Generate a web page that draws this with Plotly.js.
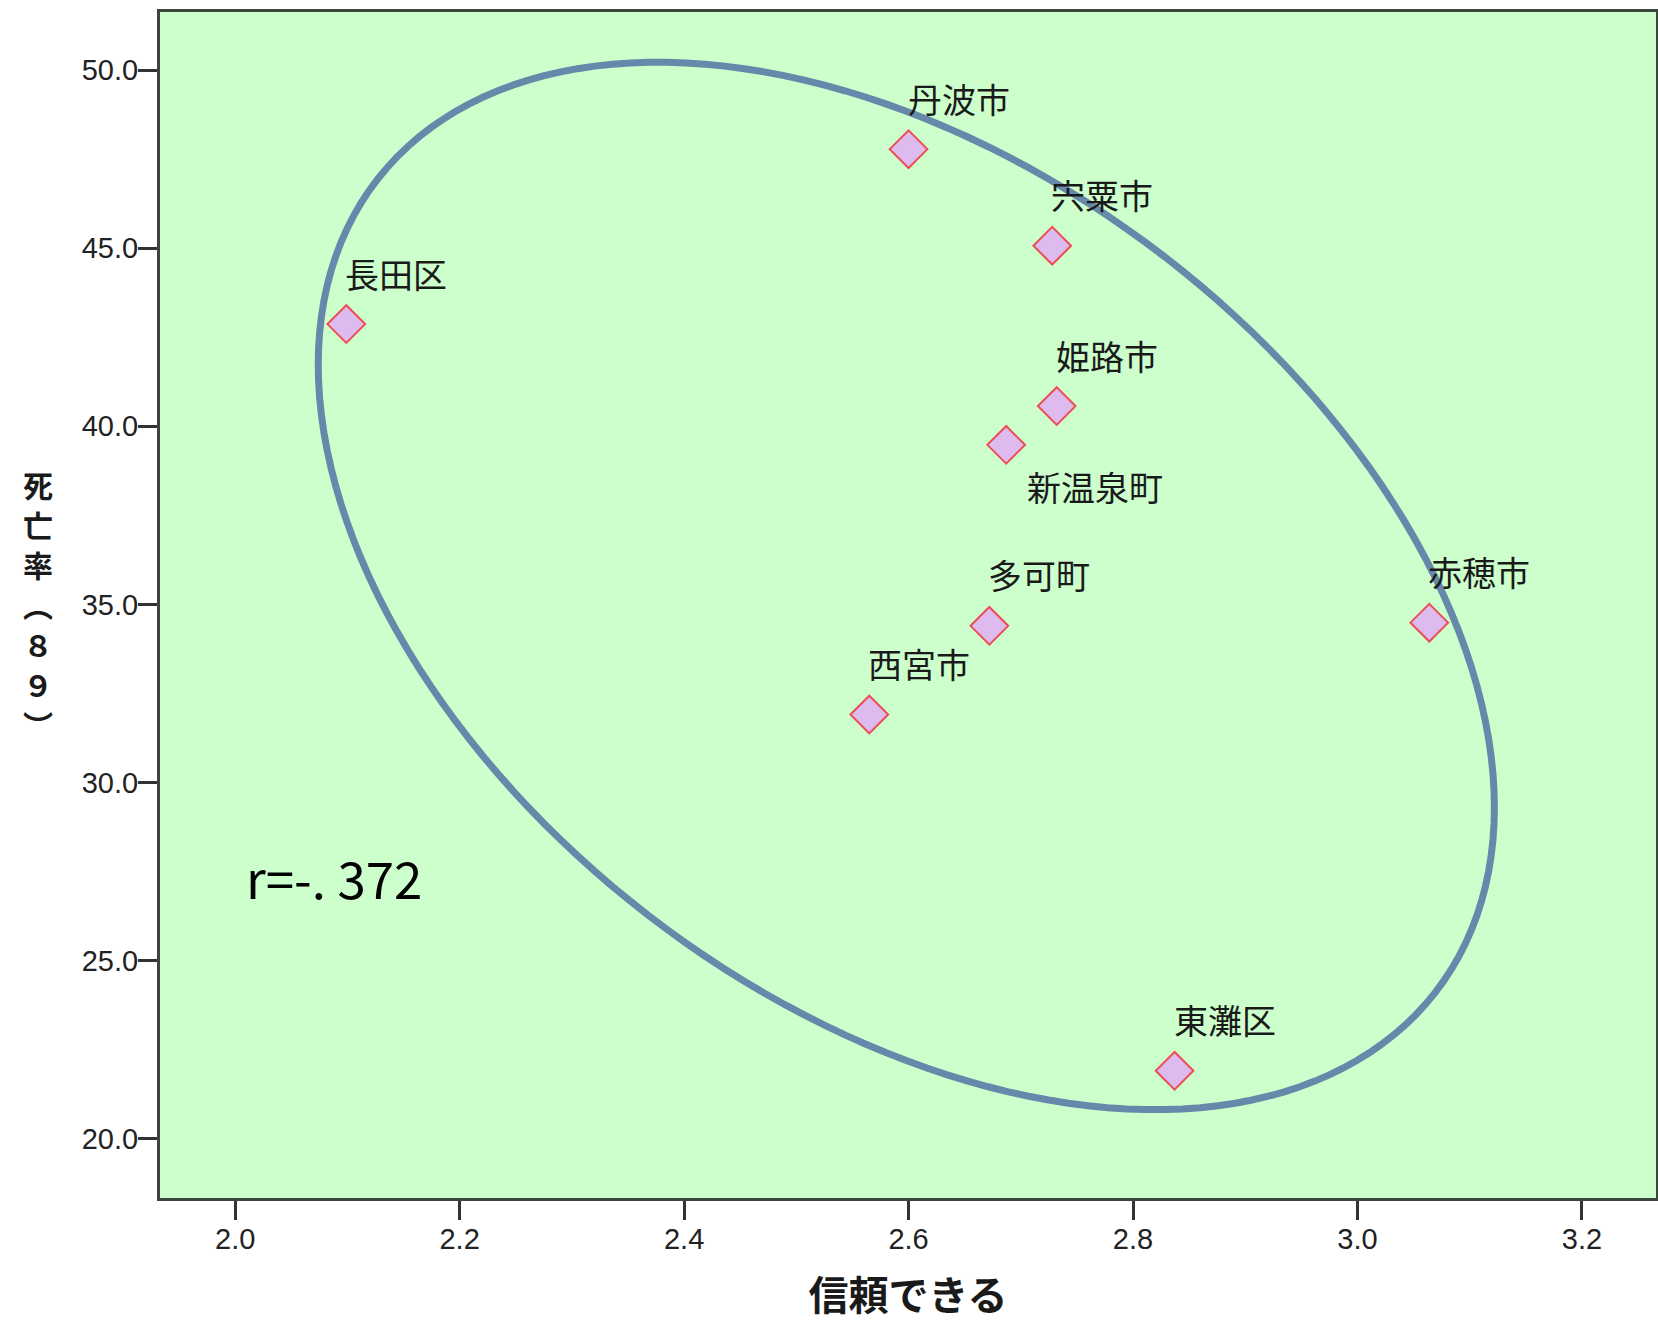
<!DOCTYPE html>
<html>
<head>
<meta charset="utf-8">
<script src="https://cdn.plot.ly/plotly-3.0.1.min.js"></script>
<style>html,body{margin:0;padding:0;background:#fff;}#chart{width:1658px;height:1322px;}</style>
</head>
<body>
<div id="chart"></div>
<script>
// ---- data ----
const cityNames = ['長田区','丹波市','宍粟市','姫路市','新温泉町','多可町','西宮市','赤穂市','東灘区'];
const trustScores = [2.099, 2.600, 2.728, 2.732, 2.687, 2.672, 2.565, 3.064, 2.837];
const deathRates = [42.87, 47.78, 45.07, 40.57, 39.48, 34.40, 31.91, 34.49, 21.91];
const labelBelow = [false, false, false, false, true, false, false, false, false];
const xTickValues = [2.0, 2.2, 2.4, 2.6, 2.8, 3.0, 3.2];
const yTickValues = [20, 25, 30, 35, 40, 45, 50];
const corrText = 'r=-. 372';
const xTitle = '信頼できる';
const yTitleChars = ['死','亡','率','︵','８','９','︶'];
// ellipse (drawn overlay) parameters: centre, half-extents, phase
const ellipseCentre = [2.598, 35.52];
const ellipseHalfX = 0.524;
const ellipseHalfY = 14.70;
const ellipsePhaseDeg = 65;

// ---- build ellipse path ----
function ellipsePath() {
  const n = 180, phi = ellipsePhaseDeg * Math.PI / 180;
  let d = '';
  for (let i = 0; i <= n; i++) {
    const t = 2 * Math.PI * i / n;
    const x = ellipseCentre[0] + ellipseHalfX * Math.cos(t);
    const y = ellipseCentre[1] - ellipseHalfY * Math.cos(t - phi);
    d += (i === 0 ? 'M ' : ' L ') + x.toFixed(5) + ',' + y.toFixed(4);
  }
  return d + ' Z';
}

const trace = {
  type: 'scatter',
  mode: 'markers',
  x: trustScores,
  y: deathRates,
  text: cityNames,
  hoverinfo: 'text',
  marker: {
    symbol: 'diamond',
    size: 29,
    color: '#DDBBEE',
    line: {color: '#EE4D55', width: 2}
  },
  showlegend: false
};

const cjk = '"Noto Sans CJK JP", "Noto Sans CJK SC", sans-serif';

const annotations = cityNames.map((name, i) => ({
  x: trustScores[i], y: deathRates[i], xref: 'x', yref: 'y',
  text: name, showarrow: false,
  xanchor: 'left', yanchor: 'middle',
  xshift: labelBelow[i] ? 19 : -3,
  yshift: labelBelow[i] ? -42 : 51,
  font: {family: cjk, size: 34, color: '#1a1a1a'}
}));

annotations.push({
  x: 2.0125, y: 27.36, xref: 'x', yref: 'y',
  text: corrText, showarrow: false,
  xanchor: 'left', yanchor: 'middle', xshift: -5,
  font: {family: cjk, size: 51, color: '#000'}
});

// vertical y-axis title, one character per line, 40px pitch
yTitleChars.forEach((ch, i) => {
  annotations.push({
    x: -0.0815, y: 0.5, xref: 'paper', yref: 'paper',
    text: ch, showarrow: false,
    xanchor: 'center', yanchor: 'middle',
    yshift: (3 - i) * 40 + 1,
    font: {family: cjk, size: 30, color: '#1a1a1a', weight: 'bold'}
  });
});

const axisCommon = {
  showgrid: false, zeroline: false,
  ticks: 'outside', ticklen: 19, tickwidth: 3, tickcolor: '#333',
  showline: true, linecolor: '#3d463d', linewidth: 3, mirror: true,
  tickformat: '.1f',
  ticklabelstandoff: -6,
  tickfont: {family: '"Liberation Sans", Arial, sans-serif', size: 29, color: '#222'}
};

const layout = {
  width: 1658, height: 1322,
  margin: {l: 160, r: 2, t: 12, b: 124},
  paper_bgcolor: '#ffffff',
  plot_bgcolor: '#CCFFCC',
  xaxis: Object.assign({}, axisCommon, {
    range: [1.933, 3.266],
    tickmode: 'array', tickvals: xTickValues,
    title: {text: xTitle, standoff: 40,
      font: {family: cjk, size: 40, color: '#1a1a1a', weight: 'bold'}}
  }),
  yaxis: Object.assign({}, axisCommon, {
    range: [18.34, 51.63],
    tickmode: 'array', tickvals: yTickValues
  }),
  shapes: [{
    type: 'path', xref: 'x', yref: 'y', path: ellipsePath(),
    line: {color: '#6688AA', width: 7}, layer: 'above'
  }],
  annotations: annotations
};

Plotly.newPlot('chart', [trace], layout, {displayModeBar: false, staticPlot: true});
</script>
</body>
</html>
